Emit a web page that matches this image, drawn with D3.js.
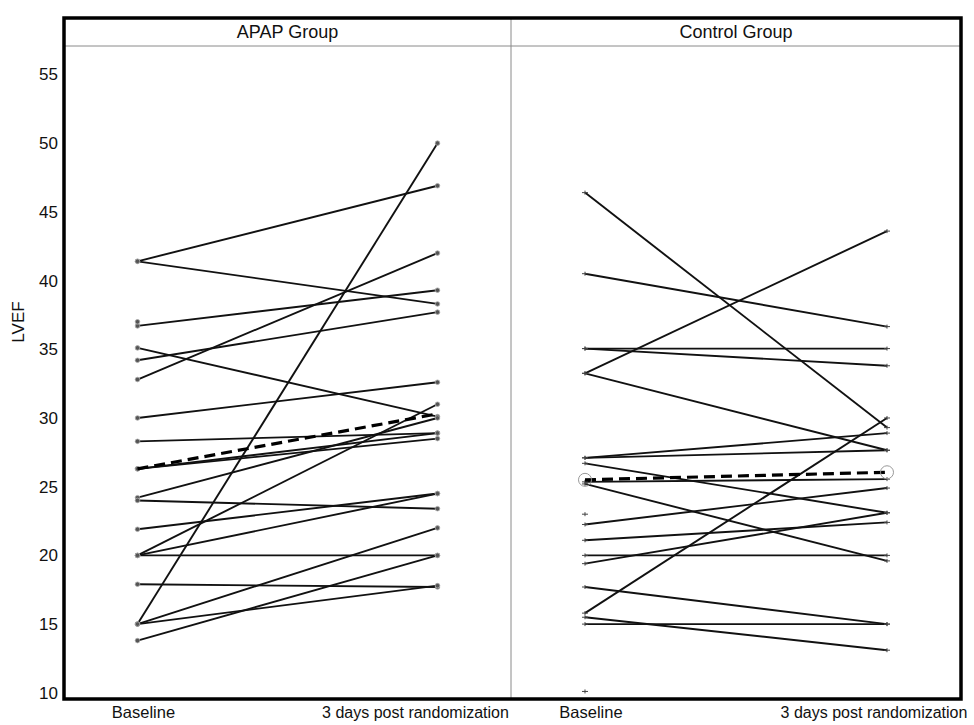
<!DOCTYPE html>
<html><head><meta charset="utf-8">
<script src="https://cdn.jsdelivr.net/npm/d3@7"></script>
<style>body{margin:0;background:#fff} text{font-family:"Liberation Sans",Arial,sans-serif;fill:#111}</style>
</head><body><svg id="c" width="974" height="725"></svg>
<script>
// ---- data ----
const groups = ["APAP Group", "Control Group"];
const timepoints = ["Baseline", "3 days post randomization"];
const yTicks = [10, 15, 20, 25, 30, 35, 40, 45, 50, 55];
const yLabel = "LVEF";

const apapBaseline = [41.4, 41.4, 36.7, 35.1, 34.2, 32.8, 30.0, 28.3, 26.3, 26.3, 24.2, 24.0, 21.9, 20.0, 20.0, 20.0, 17.9, 15.0, 15.0, 15.0, 13.8];
const apapFollowUp = [46.9, 38.3, 39.3, 30.1, 37.7, 42.0, 32.6, 28.9, 28.5, 28.9, 30.0, 23.4, 24.5, 20.0, 24.5, 31.0, 17.7, 50.0, 22.0, 17.8, 20.0];
const apapBaselineOnly = [37.0];
const apapMean = [26.3, 30.3];

const controlBaseline = [46.4, 40.5, 35.05, 35.05, 33.25, 33.25, 27.1, 27.1, 26.7, 25.35, 25.2, 22.25, 21.1, 20.0, 19.4, 17.7, 15.8, 15.5, 15.0];
const controlFollowUp = [29.3, 36.65, 35.05, 33.8, 43.6, 27.65, 28.9, 27.65, 23.1, 25.55, 19.6, 24.9, 22.4, 20.0, 23.1, 15.0, 30.0, 13.1, 15.0];
const controlBaselineOnly = [23.0, 10.1];
const controlMean = [25.5, 26.05];

// ---- layout ----
const svg = d3.select("#c");
const L = 64, R = 961, T = 18, H = 46, B = 699;
const mid = 511;
const y = d3.scaleLinear().domain([9.55, 57.07]).range([B, H]);

const panels = [
  {name: groups[0], base: apapBaseline, fu: apapFollowUp, only: apapBaselineOnly, mean: apapMean, marker: "circle", labelShift: -22},
  {name: groups[1], base: controlBaseline, fu: controlFollowUp, only: controlBaselineOnly, mean: controlMean, marker: "plus", labelShift: -13}
];

// panel divider and header line (thin gray)
svg.append("line").attr("x1", mid).attr("x2", mid).attr("y1", T).attr("y2", B)
  .attr("stroke", "#8a8a8a").attr("stroke-width", 1);
svg.append("line").attr("x1", L).attr("x2", R).attr("y1", H).attr("y2", H)
  .attr("stroke", "#8a8a8a").attr("stroke-width", 1);

const lineGen = d3.line();

panels.forEach((p, gi) => {
  const x0 = gi === 0 ? L : mid, x1 = gi === 0 ? mid : R;
  const x = d3.scalePoint().domain(timepoints).range([x0, x1]).padding(0.245);
  const g = svg.append("g");

  // header
  g.append("text").attr("x", (x0 + x1) / 2).attr("y", 38).attr("text-anchor", "middle")
    .attr("font-size", 18).text(p.name);

  // subject lines
  const pairs = p.base.map((b, i) => [b, p.fu[i]]);
  g.selectAll("path.subj").data(pairs).enter().append("path")
    .attr("d", d => lineGen([[x(timepoints[0]), y(d[0])], [x(timepoints[1]), y(d[1])]]))
    .attr("stroke", "#111").attr("stroke-width", 1.9).attr("fill", "none");

  // markers
  const pts = [];
  pairs.forEach(d => { pts.push([x(timepoints[0]), y(d[0])]); pts.push([x(timepoints[1]), y(d[1])]); });
  p.only.forEach(v => pts.push([x(timepoints[0]), y(v)]));
  if (p.marker === "circle") {
    g.selectAll("circle.m").data(pts).enter().append("circle")
      .attr("cx", d => d[0]).attr("cy", d => d[1]).attr("r", 2.3)
      .attr("fill", "#555").attr("stroke", "#aaa").attr("stroke-width", 0.8);
  } else {
    g.selectAll("path.m").data(pts).enter().append("path")
      .attr("d", d => `M${d[0]-3},${d[1]}h6M${d[0]},${d[1]-2}v4`)
      .attr("stroke", "#444").attr("stroke-width", 1);
  }

  // mean dashed line
  g.append("path")
    .attr("d", lineGen([[x(timepoints[0]), y(p.mean[0])], [x(timepoints[1]), y(p.mean[1])]]))
    .attr("stroke", "#000").attr("stroke-width", 3.2).attr("stroke-dasharray", "11,6").attr("fill", "none");
  if (p.marker === "plus") {
    g.selectAll("circle.mean").data(p.mean.map((v, i) => [x(timepoints[i]), y(v)])).enter().append("circle")
      .attr("cx", d => d[0]).attr("cy", d => d[1]).attr("r", 6.5)
      .attr("fill", "none").attr("stroke", "#999").attr("stroke-width", 1);
  }

  // category labels
  g.append("text").attr("x", x(timepoints[0]) + 6).attr("y", 718).attr("text-anchor", "middle")
    .attr("font-size", 16.5).text(timepoints[0]);
  g.append("text").attr("x", x(timepoints[1]) + p.labelShift).attr("y", 718).attr("text-anchor", "middle")
    .attr("font-size", 16).text(timepoints[1]);
});

// y axis
const ax = svg.append("g").attr("transform", `translate(${L - 4},0)`)
  .call(d3.axisLeft(y).tickValues(yTicks).tickSize(0).tickPadding(2));
ax.select(".domain").remove();
ax.selectAll("text").attr("font-size", 17).attr("fill", "#111")
  .style("font-family", '"Liberation Sans",Arial,sans-serif');

svg.append("text").attr("transform", `translate(24,322) rotate(-90)`)
  .attr("text-anchor", "middle").attr("font-size", 17).text(yLabel);

// outer frame (thick)
svg.append("rect").attr("x", L).attr("y", T).attr("width", R - L).attr("height", B - T)
  .attr("fill", "none").attr("stroke", "#000").attr("stroke-width", 3.5);
</script></body></html>
